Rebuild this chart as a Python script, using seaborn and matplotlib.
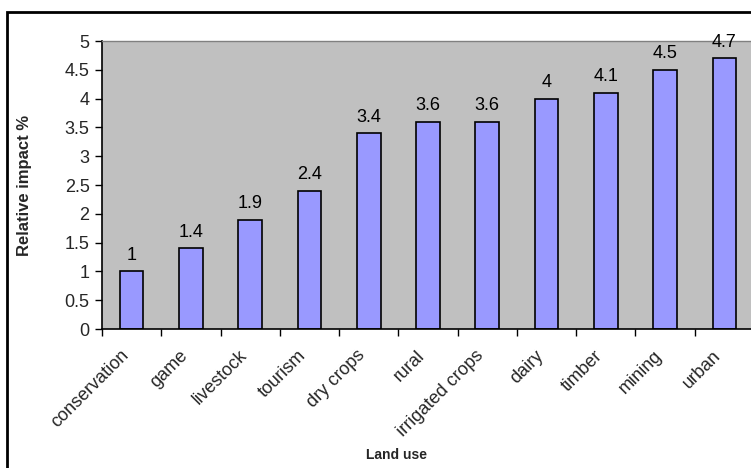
import matplotlib
matplotlib.use("Agg")
import matplotlib.pyplot as plt
import matplotlib.patches as mpatches
from matplotlib.ticker import FixedLocator
import seaborn as sns
import pandas as pd

land_use = ["conservation", "game", "livestock", "tourism", "dry crops", "rural",
            "irrigated crops", "dairy", "timber", "mining", "urban"]
impact = [1, 1.4, 1.9, 2.4, 3.4, 3.6, 3.6, 4, 4.1, 4.5, 4.7]
impact_labels = ["1", "1.4", "1.9", "2.4", "3.4", "3.6", "3.6", "4", "4.1", "4.5", "4.7"]
y_ticks = [0, 0.5, 1, 1.5, 2, 2.5, 3, 3.5, 4, 4.5, 5]
y_tick_labels = ["0", "0.5", "1", "1.5", "2", "2.5", "3", "3.5", "4", "4.5", "5"]

df = pd.DataFrame({"Land use": land_use, "Relative impact %": impact})

sns.set_theme(style="white")
plt.rcParams["font.family"] = ["Liberation Sans", "DejaVu Sans"]

fig = plt.figure(figsize=(7.51, 4.68), dpi=100)
ax = fig.add_axes([102 / 751, 1 - 329 / 468, 652 / 751, 288 / 468])
ax.set_facecolor("#C0C0C0")

sns.barplot(data=df, x="Land use", y="Relative impact %", order=land_use,
            color="#9999FF", edgecolor="black", linewidth=1.2, width=0.4,
            saturation=1, ax=ax)

ax.set_xlim(-0.5, len(land_use) - 0.5)
ax.set_ylim(0, 5)
ax.set_yticks(y_ticks)
ax.set_yticklabels(y_tick_labels, fontsize=13)

# category labels just left of bar centres, tick marks between categories
ax.set_xticks([i - 0.2 for i in range(len(land_use))])
ax.set_xticklabels(land_use, rotation=45, ha="right", rotation_mode="anchor",
                   fontsize=13)
ax.xaxis.set_minor_locator(FixedLocator([i - 0.5 for i in range(len(land_use) + 1)]))
ax.tick_params(axis="x", which="major", length=0, pad=13)
ax.tick_params(axis="x", which="minor", length=5, width=1, color="black", bottom=True)
ax.tick_params(axis="y", which="major", length=5, width=1, color="black", left=True,
               pad=4)

for side in ["top", "right"]:
    ax.spines[side].set_color("#808080")
    ax.spines[side].set_linewidth(1)
for side in ["left", "bottom"]:
    ax.spines[side].set_color("black")
    ax.spines[side].set_linewidth(1.2)

for patch, txt in zip(ax.patches, impact_labels):
    ax.annotate(txt, (patch.get_x() + patch.get_width() / 2, patch.get_height()),
                xytext=(0, 5.5), textcoords="offset points", ha="center", va="bottom",
                fontsize=13, color="black")

ax.set_xlabel("Land use", fontsize=10, fontweight="bold")
ax.set_ylabel("Relative impact %", fontsize=12, fontweight="bold")
ax.xaxis.set_label_coords((397 - 102) / 652, -(455 - 329) / 288)
ax.yaxis.set_label_coords(-(102 - 25) / 652, 0.5)
ax.xaxis.label.set_va("center")
ax.yaxis.label.set_va("center")

# chart frame
frame = mpatches.Rectangle((7 / 751, -0.1), 1.2, (468 - 12) / 468 + 0.1,
                           transform=fig.transFigure, fill=False,
                           edgecolor="black", linewidth=2, clip_on=False)
fig.patches.append(frame)

fig.savefig("out.png", dpi=100)
